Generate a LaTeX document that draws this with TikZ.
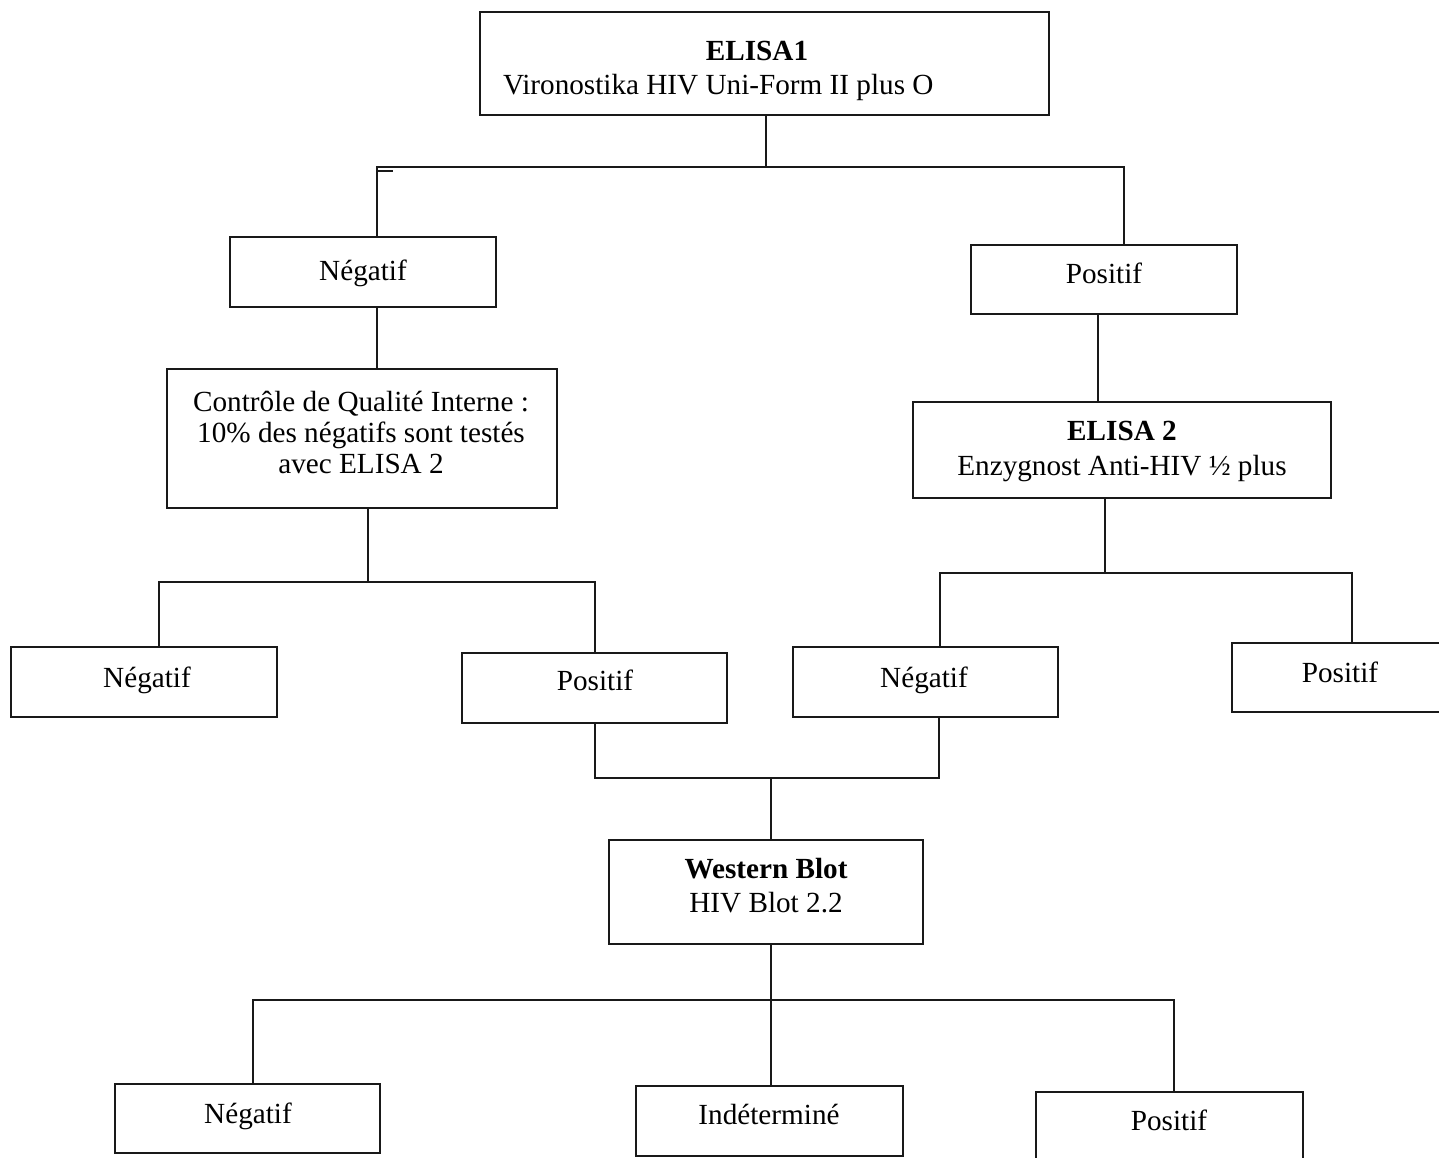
\documentclass[tikz,border=0pt]{standalone}
\usepackage{fontspec}
\setmainfont{Liberation Serif}
\begin{document}
\begin{tikzpicture}[x=0.5pt,y=-0.5pt,
  box/.style={draw=black!90, line width=1.35pt, rectangle, inner sep=0pt, outer sep=0pt},
  txt/.style={inner sep=0pt, outer sep=0pt, font=\fontsize{14.6pt}{15pt}\selectfont},
  btxt/.style={txt, font=\fontsize{14.6pt}{15pt}\selectfont\bfseries},
  conn/.style={draw=black!90, line width=1.35pt}]
\newcommand\mybox[5]{\node[box, anchor=north west, minimum width={(#4-#2)*0.5pt}, minimum height={(#5-#3)*0.5pt}] (#1) at (#2,#3) {};}
\clip (0,0) rectangle (1439,1157);
\fill[white] (0,0) rectangle (1439,1157);
% boxes
\mybox{elisa1}{480}{12}{1049}{115}
\mybox{neg1}{230}{237}{496}{307}
\mybox{pos1}{971}{245}{1237}{314}
\mybox{ctrl}{167}{369}{557}{508}
\mybox{elisa2}{913}{402}{1331}{498}
\mybox{negA}{11}{647}{277}{717}
\mybox{posA}{462}{653}{727}{723}
\mybox{negB}{793}{647}{1058}{717}
\mybox{posR}{1232}{643}{1470}{712}
\mybox{wb}{609}{840}{923}{944}
\mybox{negC}{115}{1084}{380}{1153}
\mybox{ind}{636}{1086}{903}{1156}
\mybox{posC}{1036}{1092}{1303}{1180}
% texts
\node[btxt, anchor=base] (tE1a) at (757,60) {ELISA1};
\node[txt, anchor=base west] (tE1b) at (503,94) {Vironostika HIV Uni-Form II plus O};
\node[txt, anchor=base] (tN1) at (363,280) {Négatif};
\node[txt, anchor=base] (tP1) at (1104,283) {Positif};
\node[txt, anchor=base] (tCa) at (361,411) {Contrôle de Qualité Interne :};
\node[txt, anchor=base] (tCb) at (361,442) {10\% des négatifs sont testés};
\node[txt, anchor=base] (tCc) at (361,473) {avec ELISA 2};
\node[btxt, anchor=base] (tE2a) at (1122,440) {ELISA 2};
\node[txt, anchor=base] (tE2b) at (1122,475) {Enzygnost Anti-HIV ½ plus};
\node[txt, anchor=base] (tNA) at (147,687) {Négatif};
\node[txt, anchor=base] (tPA) at (595,690) {Positif};
\node[txt, anchor=base] (tNB) at (924,687) {Négatif};
\node[txt, anchor=base] (tPR) at (1340,682) {Positif};
\node[btxt, anchor=base] (tWa) at (766,878) {Western Blot};
\node[txt, anchor=base] (tWb) at (766,912) {HIV Blot 2.2};
\node[txt, anchor=base] (tNC) at (248,1123) {Négatif};
\node[txt, anchor=base] (tI) at (769,1124) {Indéterminé};
\node[txt, anchor=base] (tPC) at (1169,1130) {Positif};
% junctions
\coordinate (jA) at (766,167);
\coordinate (jL) at (377,167);
\coordinate (jR) at (1124,167);
\coordinate (xP) at (1098,360);
\coordinate (jC) at (368,582);
\coordinate (jCL) at (159,582);
\coordinate (jCR) at (595,582);
\coordinate (jE) at (1105,573);
\coordinate (jEL) at (940,573);
\coordinate (jER) at (1352,573);
\coordinate (jM) at (771,778);
\coordinate (jML) at (595,778);
\coordinate (jMR) at (939,778);
\coordinate (jW) at (771,1000);
\coordinate (jWL) at (253,1000);
\coordinate (jWR) at (1174,1000);
\coordinate (stubA) at (377,171);
\coordinate (stubB) at (393,171);
% connectors
\draw[conn] (elisa1.south -| jA) -- (jA);
\draw[conn] (neg1.north -| jL) -- (jL) -- (jR) -- (pos1.north -| jR);
\draw[conn] (stubA) -- (stubB);
\draw[conn] (neg1.south -| jL) -- (ctrl.north -| jL);
\draw[conn] (pos1.south -| xP) -- (elisa2.north -| xP);
\draw[conn] (ctrl.south -| jC) -- (jC);
\draw[conn] (negA.north -| jCL) -- (jCL) -- (jCR) -- (posA.north -| jCR);
\draw[conn] (elisa2.south -| jE) -- (jE);
\draw[conn] (negB.north -| jEL) -- (jEL) -- (jER) -- (posR.north -| jER);
\draw[conn] (posA.south -| jML) -- (jML) -- (jMR) -- (negB.south -| jMR);
\draw[conn] (jM) -- (wb.north -| jM);
\draw[conn] (wb.south -| jW) -- (jW);
\draw[conn] (negC.north -| jWL) -- (jWL) -- (jWR) -- (posC.north -| jWR);
\draw[conn] (jW) -- (ind.north -| jW);
\end{tikzpicture}
\end{document}
